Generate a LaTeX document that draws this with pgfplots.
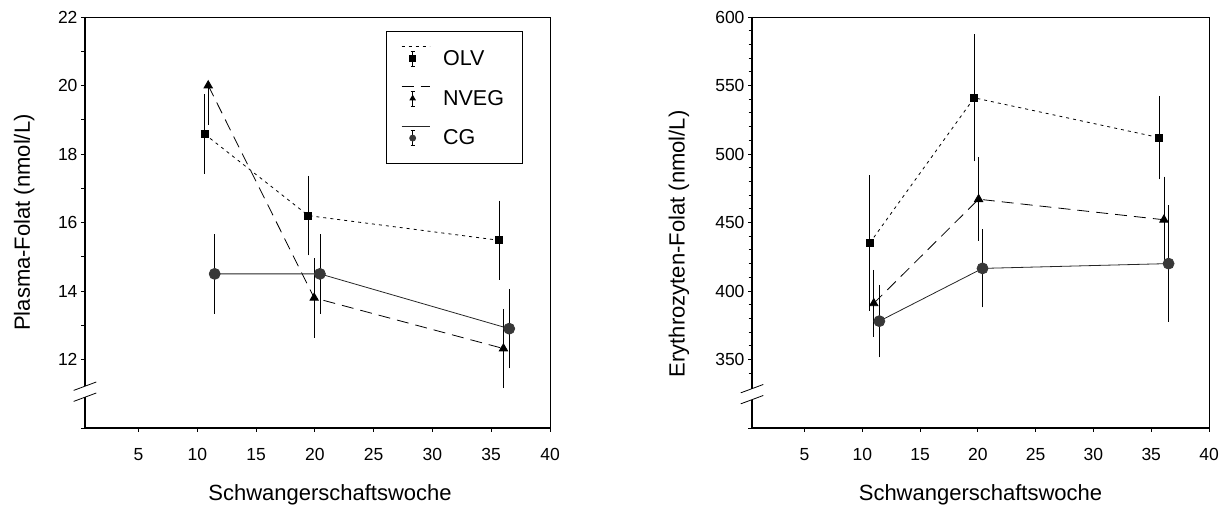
\documentclass[border=0pt]{standalone}
\usepackage{fontspec}
\setmainfont{Liberation Sans}
\usepackage{pgfplots}
\usepackage{pgfplotstable}
\pgfplotsset{compat=1.18}

% Plasma folate (nmol/L): week, mean, error plus, error minus
\pgfplotstableread{
x y ep em
10.63 18.58 1.1 1.1
19.45 16.20 1.1 1.1
35.68 15.48 1.1 1.1
}\plasmaOLV
\pgfplotstableread{
x y ep em
10.93 20.00 0.0 1.1
19.94 13.80 1.1 1.1
36.04 12.32 1.1 1.1
}\plasmaNVEG
\pgfplotstableread{
x y ep em
11.48 14.50 1.1 1.1
20.43 14.50 1.1 1.1
36.53 12.90 1.1 1.1
}\plasmaCG

% Red cell folate (nmol/L)
\pgfplotstableread{
x y ep em
10.64 435.0 48 48
19.68 541.0 45 45
35.67 512.0 29 29
}\eryOLV
\pgfplotstableread{
x y ep em
10.99 391.0 23 23
20.06 467.0 29 29
36.10 452.0 30 30
}\eryNVEG
\pgfplotstableread{
x y ep em
11.47 378.0 25 25
20.40 416.5 27 27
36.50 420.0 41 41
}\eryCG

\newcommand\tickfont{\fontsize{17.5}{20}\selectfont}

\pgfplotsset{
  panel/.style={
    scale only axis, height=411pt,
    xmin=0.45, xmax=40, xtick={5,10,...,40},
    tick align=outside, xtick pos=bottom, ytick pos=left,
    major tick length=4pt, minor tick length=3.5pt,
    tick style={black, line width=0.9pt},
    axis line style={line width=0.9pt},
    clip=false,
    /pgf/number format/assume math mode=true,
    xticklabel={\tickfont\rule{0pt}{25pt}\pgfmathprintnumber{\tick}},
    yticklabel={\tickfont\pgfmathprintnumber{\tick}\hspace{5pt}},
    extra y tick labels={},
    xlabel={Schwangerschaftswoche},
    every axis label/.append style={font=\fontsize{22}{26}\selectfont},
  },
  olv/.style={black, line width=0.8pt, dash pattern=on 3pt off 4pt,
    mark=square*, mark size=3.5pt, mark options={solid, black}},
  nveg/.style={black, line width=0.8pt, dash pattern=on 12pt off 7pt,
    mark=triangle*, mark size=4.8pt, mark options={solid, black}},
  cg/.style={black!85, line width=0.8pt, solid,
    mark=*, mark size=5.5pt, mark options={solid, fill=black!78, draw=black!78}},
  ebar/.style={error bars/.cd, y dir=both, y explicit,
    error bar style={solid, black, line width=0.8pt},
    error mark options={solid, black, mark size=2pt, line width=0.8pt}},
  sigmaleg/.style={legend image code/.code={
    \draw[##1, mark=none] (0pt,12pt) -- (28pt,12pt);
    \draw[solid, black, line width=0.7pt] (11pt,-7.5pt) -- (11pt,7.5pt)
      (9pt,7.5pt) -- (13pt,7.5pt) (9pt,-7.5pt) -- (13pt,-7.5pt);
    \draw[##1, mark size=3pt] plot coordinates {(11pt,0pt)};
  }},
}

\begin{document}
\begin{tikzpicture}
\useasboundingbox (0pt,0pt) rectangle (1232pt,506pt);

% left panel: plasma folate
\begin{axis}[panel, width=465pt, at={(85pt,78pt)}, anchor=south west,
  ymin=10, ymax=22, ytick={12,14,...,22}, extra y ticks={10},
  minor ytick={13,15,17,19,21},
  ylabel={Plasma-Folat (nmol/L)},
  ylabel style={at={(axis description cs:-0.131,0.5)}, anchor=center},
  xlabel style={at={(axis description cs:0.527,-0.163)}, anchor=center},
  sigmaleg,
  legend style={at={(axis description cs:0.647,0.966)}, anchor=north west,
    draw=black, line width=0.8pt, font=\fontsize{21.5}{26}\selectfont,
    inner xsep=15pt, inner ysep=15pt, row sep=17pt, cells={anchor=west},
    nodes={inner xsep=3pt},
    /tikz/every odd column/.append style={column sep=10pt}},
]
\addplot[olv, ebar] table[x=x, y=y, y error plus=ep, y error minus=em] {\plasmaOLV};
\addlegendentry{OLV}
\addplot[nveg, ebar] table[x=x, y=y, y error plus=ep, y error minus=em] {\plasmaNVEG};
\addlegendentry{NVEG}
\addplot[cg, ebar] table[x=x, y=y, y error plus=ep, y error minus=em] {\plasmaCG};
\addlegendentry{CG}
% heavier left and bottom spines
\draw[line width=1.6pt] (rel axis cs:0,1) -- (rel axis cs:0,0) -- (rel axis cs:1,0);
% axis break
\fill[white] ([xshift=-2pt,yshift=-5.5pt]axis cs:0.45,11.06) rectangle ([xshift=2pt,yshift=5.5pt]axis cs:0.45,11.06);
\draw[line width=0.8pt] ([xshift=-11.3pt,yshift=1.3pt]axis cs:0.45,11.06) -- ([xshift=11.3pt,yshift=9.7pt]axis cs:0.45,11.06)
  ([xshift=-11.3pt,yshift=-9.7pt]axis cs:0.45,11.06) -- ([xshift=11.3pt,yshift=-1.3pt]axis cs:0.45,11.06);
\end{axis}

% right panel: red cell folate
\begin{axis}[panel, width=457pt, at={(752pt,78pt)}, anchor=south west,
  ymin=300, ymax=600, ytick={350,400,...,600}, extra y ticks={300},
  minor ytick={340,360,370,380,390,410,420,430,440,460,470,480,490,510,520,530,540,560,570,580,590},
  ylabel={Erythrozyten-Folat (nmol/L)},
  ylabel style={at={(axis description cs:-0.16,0.448)}, anchor=center},
  xlabel style={at={(axis description cs:0.5,-0.163)}, anchor=center},
]
\addplot[olv, ebar] table[x=x, y=y, y error plus=ep, y error minus=em] {\eryOLV};
\addplot[nveg, ebar] table[x=x, y=y, y error plus=ep, y error minus=em] {\eryNVEG};
\addplot[cg, ebar] table[x=x, y=y, y error plus=ep, y error minus=em] {\eryCG};
\draw[line width=1.6pt] (rel axis cs:0,1) -- (rel axis cs:0,0) -- (rel axis cs:1,0);
\fill[white] ([xshift=-2pt,yshift=-5.5pt]axis cs:0.45,324.7) rectangle ([xshift=2pt,yshift=5.5pt]axis cs:0.45,324.7);
\draw[line width=0.8pt] ([xshift=-11.3pt,yshift=1.3pt]axis cs:0.45,324.7) -- ([xshift=11.3pt,yshift=9.7pt]axis cs:0.45,324.7)
  ([xshift=-11.3pt,yshift=-9.7pt]axis cs:0.45,324.7) -- ([xshift=11.3pt,yshift=-1.3pt]axis cs:0.45,324.7);
\end{axis}
\end{tikzpicture}
\end{document}
